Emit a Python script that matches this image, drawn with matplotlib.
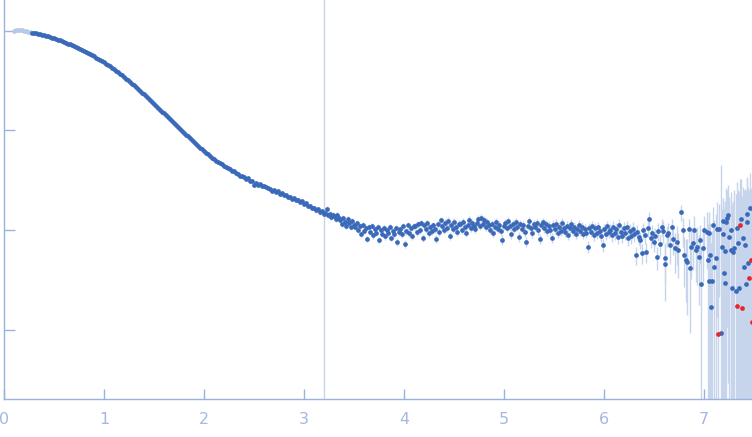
import numpy as np
import matplotlib
matplotlib.use("Agg")
import matplotlib.pyplot as plt
from matplotlib.ticker import NullLocator

# ---------------- data (q in nm^-1, intensity as log10 I) ----------------
q_excluded = [0.10, 0.12, 0.14, 0.16, 0.18, 0.20, 0.22, 0.24, 0.26]
logI_excluded = [0.000, 0.004, 0.006, 0.003, 0.001, -0.003, -0.006, -0.010, -0.014]

q_low = [
    0.28, 0.30, 0.32, 0.34, 0.36, 0.38, 0.40, 0.42, 0.44, 0.46,
    0.48, 0.50, 0.52, 0.54, 0.56, 0.58, 0.60, 0.62, 0.64, 0.66,
    0.68, 0.70, 0.72, 0.74, 0.76, 0.78, 0.80, 0.82, 0.84, 0.86,
    0.88, 0.90, 0.92, 0.94, 0.96, 0.98, 1.00, 1.02, 1.04, 1.06,
    1.08, 1.10, 1.12, 1.14, 1.16, 1.18, 1.20, 1.22, 1.24, 1.26,
    1.28, 1.30, 1.32, 1.34, 1.36, 1.38, 1.40, 1.42, 1.44, 1.46,
    1.48, 1.50, 1.52, 1.54, 1.56, 1.58, 1.60, 1.62, 1.64, 1.66,
    1.68, 1.70, 1.72, 1.74, 1.76, 1.78, 1.80, 1.82, 1.84, 1.86,
    1.88, 1.90, 1.92, 1.94, 1.96, 1.98, 2.00, 2.02, 2.04, 2.06,
    2.08, 2.10, 2.12, 2.14, 2.16, 2.18, 2.20, 2.22, 2.24, 2.26,
    2.28, 2.30, 2.32, 2.34, 2.36, 2.38, 2.40, 2.42, 2.44, 2.46,
    2.48, 2.50, 2.52, 2.54, 2.56, 2.58, 2.60, 2.62, 2.64, 2.66,
    2.68, 2.70, 2.72, 2.74, 2.76, 2.78, 2.80, 2.82, 2.84, 2.86,
    2.88, 2.90, 2.92, 2.94, 2.96, 2.98, 3.00, 3.02, 3.04, 3.06,
    3.08, 3.10, 3.12, 3.14, 3.16, 3.18, 3.20]
logI_low = [
    -0.020, -0.024, -0.028, -0.032, -0.037, -0.042, -0.047, -0.052, -0.058, -0.065,
    -0.071, -0.077, -0.084, -0.091, -0.099, -0.106, -0.114, -0.122, -0.131, -0.139,
    -0.147, -0.156, -0.165, -0.175, -0.185, -0.195, -0.205, -0.215, -0.226, -0.237,
    -0.248, -0.259, -0.271, -0.283, -0.295, -0.307, -0.320, -0.333, -0.347, -0.361,
    -0.376, -0.390, -0.405, -0.420, -0.435, -0.450, -0.466, -0.482, -0.499, -0.516,
    -0.533, -0.550, -0.568, -0.586, -0.604, -0.622, -0.640, -0.659, -0.678, -0.697,
    -0.716, -0.735, -0.755, -0.774, -0.793, -0.813, -0.832, -0.851, -0.871, -0.890,
    -0.909, -0.929, -0.948, -0.967, -0.987, -1.006, -1.025, -1.044, -1.063, -1.082,
    -1.101, -1.120, -1.138, -1.156, -1.174, -1.191, -1.209, -1.226, -1.243, -1.259,
    -1.274, -1.289, -1.306, -1.316, -1.333, -1.342, -1.359, -1.367, -1.384, -1.390,
    -1.408, -1.413, -1.432, -1.436, -1.455, -1.460, -1.466, -1.489, -1.480, -1.508,
    -1.510, -1.545, -1.528, -1.552, -1.538, -1.562, -1.555, -1.572, -1.580, -1.586,
    -1.605, -1.598, -1.622, -1.610, -1.640, -1.627, -1.652, -1.645, -1.670, -1.668,
    -1.690, -1.683, -1.705, -1.698, -1.725, -1.712, -1.744, -1.735, -1.762, -1.760,
    -1.782, -1.777, -1.805, -1.792, -1.825, -1.815, -1.845]
err_pct_low = [
    1, 1, 1, 1, 1, 1, 1, 1, 1, 1,
    1, 1, 1, 1, 1, 1, 1, 1, 1, 1,
    1, 1, 1, 1, 1, 1, 1, 1, 1, 1,
    1, 1, 1, 1, 1, 1, 1, 1, 1, 1,
    1, 1, 1, 1, 1, 1, 1, 1, 1, 1,
    1, 1, 1, 1, 1, 1, 1, 1, 1, 1,
    1, 1, 1, 1, 1, 1, 1, 1, 1, 1,
    1, 1, 1, 1, 1, 1, 1, 1, 1, 1,
    2, 2, 2, 2, 2, 2, 2, 2, 2, 2,
    2, 2, 2, 2, 2, 2, 2, 2, 2, 2,
    3, 3, 3, 3, 3, 3, 3, 3, 3, 3,
    3, 3, 3, 3, 3, 3, 3, 3, 3, 3,
    4, 4, 4, 4, 4, 4, 4, 4, 4, 4,
    4, 4, 4, 4, 4, 4, 4, 4, 4, 4,
    5, 5, 5, 5, 5, 5, 5]

q_mid = [
    3.21, 3.225, 3.24, 3.255, 3.27, 3.285, 3.30, 3.315, 3.33, 3.345,
    3.36, 3.375, 3.39, 3.405, 3.42, 3.435, 3.45, 3.465, 3.48, 3.495,
    3.51, 3.525, 3.54, 3.555, 3.57, 3.585, 3.60, 3.615, 3.63, 3.645,
    3.66, 3.675, 3.69, 3.705, 3.72, 3.735, 3.75, 3.765, 3.78, 3.795,
    3.81, 3.825, 3.84, 3.855, 3.87, 3.885, 3.90, 3.915, 3.93, 3.945,
    3.96, 3.975, 3.99, 4.005, 4.02, 4.035, 4.05, 4.065, 4.08, 4.095,
    4.11, 4.125, 4.14, 4.155, 4.17, 4.185, 4.20, 4.215, 4.23, 4.245,
    4.26, 4.275, 4.29, 4.305, 4.32, 4.335, 4.35, 4.365, 4.38, 4.395,
    4.41, 4.425, 4.44, 4.455, 4.47, 4.485, 4.50, 4.515, 4.53, 4.545,
    4.56, 4.575, 4.59, 4.605, 4.62, 4.635, 4.65, 4.665, 4.68, 4.695,
    4.71, 4.725, 4.74, 4.755, 4.77, 4.785, 4.80, 4.815, 4.83, 4.845,
    4.86, 4.875, 4.89, 4.905, 4.92, 4.935, 4.95, 4.965, 4.98, 4.995,
    5.01, 5.025, 5.04, 5.055, 5.07, 5.085, 5.10, 5.115, 5.13, 5.145,
    5.16, 5.175, 5.19, 5.205, 5.22, 5.235, 5.25, 5.265, 5.28, 5.295,
    5.31, 5.325, 5.34, 5.355, 5.37, 5.385, 5.40, 5.415, 5.43, 5.445,
    5.46, 5.475, 5.49, 5.505, 5.52, 5.535, 5.55, 5.565, 5.58, 5.595,
    5.61, 5.625, 5.64, 5.655, 5.67, 5.685, 5.70, 5.715, 5.73, 5.745,
    5.76, 5.775, 5.79, 5.805, 5.82, 5.835, 5.85, 5.865, 5.88, 5.895,
    5.91, 5.925, 5.94, 5.955, 5.97, 5.985, 6.00, 6.015, 6.03, 6.045,
    6.06, 6.075, 6.09, 6.105, 6.12, 6.135, 6.15, 6.165, 6.18, 6.195,
    6.21, 6.225, 6.24, 6.255, 6.27, 6.285, 6.30, 6.315, 6.33, 6.345,
    6.36, 6.375, 6.39, 6.405, 6.42, 6.435, 6.45, 6.465, 6.48, 6.495,
    6.51, 6.525, 6.54, 6.555]
logI_mid = [
    -1.83, -1.79, -1.85, -1.84, -1.87, -1.85, -1.86, -1.89, -1.85, -1.88,
    -1.90, -1.94, -1.88, -1.92, -1.96, -1.89, -1.93, -1.97, -1.91, -1.95,
    -1.97, -1.93, -2.00, -1.96, -2.04, -1.95, -2.01, -1.98, -2.09, -1.97,
    -2.02, -1.96, -2.05, -1.99, -2.03, -1.97, -2.10, -2.00, -2.04, -1.98,
    -2.06, -2.00, -2.03, -1.97, -2.08, -2.01, -2.04, -1.98, -2.12, -2.02,
    -1.99, -2.04, -1.96, -2.14, -2.01, -1.95, -2.03, -1.98, -2.06, -1.96,
    -1.96, -2.02, -1.94, -2.00, -1.93, -2.08, -1.95, -1.99, -1.93, -2.03,
    -1.97, -2.01, -1.95, -1.99, -2.09, -1.94, -2.02, -1.90, -1.96, -2.00,
    -1.93, -1.98, -1.91, -2.06, -1.95, -1.99, -1.92, -1.97, -2.02, -1.94,
    -1.94, -2.00, -1.92, -1.97, -2.03, -1.95, -1.90, -1.98, -1.93, -1.96,
    -1.99, -1.93, -1.89, -1.96, -1.88, -1.94, -1.90, -1.97, -1.92, -1.95,
    -2.00, -1.94, -2.03, -1.97, -1.92, -1.99, -1.95, -2.01, -2.10, -1.96,
    -1.93, -1.98, -1.91, -1.96, -2.04, -1.94, -1.99, -1.92, -1.97, -2.07,
    -1.94, -1.99, -1.95, -2.02, -2.12, -1.96, -1.91, -1.98, -2.03, -1.94,
    -1.97, -1.93, -2.00, -2.09, -1.95, -1.92, -1.98, -1.94, -2.01, -1.96,
    -2.00, -2.08, -1.95, -1.99, -1.94, -2.03, -1.97, -2.01, -1.93, -1.98,
    -2.02, -1.96, -2.05, -1.98, -1.94, -2.01, -1.97, -2.04, -1.99, -1.95,
    -2.01, -1.97, -2.04, -1.99, -2.03, -2.17, -1.98, -2.02, -1.96, -2.05,
    -1.98, -2.03, -1.97, -2.01, -2.06, -2.15, -1.99, -2.04, -1.96, -2.02,
    -2.00, -2.05, -1.97, -2.03, -1.99, -2.07, -1.95, -2.02, -2.06, -1.98,
    -2.03, -1.97, -2.08, -2.01, -2.06, -1.99, -2.04, -2.25, -2.02, -2.07,
    -2.10, -2.23, -2.00, -2.05, -2.22, -1.98, -1.89, -2.08, -2.03, -2.12,
    -2.06, -2.27, -2.01, -2.14]
err_pct_mid = [
    6, 6, 6, 6, 6, 6, 6, 6, 6, 6,
    6, 7, 6, 7, 6, 7, 6, 7, 6, 7,
    7, 7, 7, 7, 7, 7, 7, 7, 8, 7,
    7, 7, 8, 7, 7, 7, 8, 7, 7, 7,
    8, 7, 8, 7, 8, 7, 8, 7, 9, 8,
    8, 8, 8, 9, 8, 8, 8, 8, 8, 8,
    8, 8, 8, 8, 8, 9, 8, 8, 8, 8,
    8, 9, 8, 9, 9, 8, 9, 8, 9, 9,
    9, 9, 9, 10, 9, 9, 9, 9, 9, 9,
    9, 9, 9, 9, 10, 9, 9, 9, 9, 9,
    9, 9, 9, 9, 9, 9, 9, 9, 9, 9,
    10, 9, 10, 10, 9, 10, 10, 10, 11, 10,
    10, 10, 10, 10, 11, 10, 10, 10, 10, 11,
    10, 10, 10, 11, 12, 10, 10, 10, 11, 10,
    10, 10, 11, 12, 10, 10, 11, 10, 11, 11,
    11, 12, 11, 11, 11, 11, 11, 11, 11, 11,
    11, 11, 12, 11, 11, 12, 11, 12, 12, 11,
    12, 12, 12, 12, 12, 14, 12, 12, 12, 13,
    13, 13, 13, 13, 14, 15, 13, 14, 13, 14,
    14, 15, 14, 15, 14, 16, 14, 15, 16, 15,
    16, 15, 17, 16, 17, 16, 17, 21, 17, 18,
    19, 22, 18, 19, 22, 18, 17, 20, 19, 21,
    21, 26, 21, 24]

q_high = [
    6.574, 6.590, 6.607, 6.610, 6.624, 6.640, 6.657, 6.674, 6.690, 6.707,
    6.724, 6.740, 6.767, 6.784, 6.797, 6.814, 6.824, 6.844, 6.857, 6.867,
    6.884, 6.900, 6.917, 6.930, 6.944, 6.957, 6.970, 6.984, 6.997, 7.024,
    7.034, 7.044, 7.047, 7.057, 7.067, 7.074, 7.084, 7.100, 7.117, 7.124,
    7.150, 7.167, 7.174, 7.184, 7.190, 7.200, 7.203, 7.210, 7.217, 7.230,
    7.240, 7.250, 7.264, 7.266, 7.280, 7.290, 7.300, 7.317, 7.330, 7.340,
    7.347, 7.367, 7.390, 7.400, 7.410, 7.417, 7.424, 7.430, 7.440, 7.457]
logI_high = [
    -1.968, -2.011, -2.285, -2.342, -2.051, -2.028, -2.151, -1.968, -2.094, -2.185,
    -2.118, -2.202, -1.823, -2.001, -2.252, -2.302, -2.319, -1.994, -2.385, -2.168,
    -2.134, -2.001, -2.202, -2.168, -2.269, -2.101, -2.546, -2.185, -2.001, -2.018,
    -2.302, -2.034, -2.513, -2.252, -2.776, -2.513, -1.951, -2.375, -2.285, -1.994,
    -1.994, -3.037, -2.175, -1.911, -2.041, -2.429, -2.536, -2.209, -1.918, -1.884,
    -1.851, -2.068, -2.001, -2.202, -2.586, -2.219, -2.185, -2.613, -1.984, -2.134,
    -2.586, -1.894, -2.084, -2.375, -2.151, -2.543, -1.841, -1.918, -2.329, -1.783]
sigma_high_e4 = [
    20, 24, 22, 26, 21, 23, 25, 20, 24,
    28, 32, 30, 27, 33, 29, 31, 34, 28,
    32, 36, 34, 38, 33, 40, 36, 34, 39, 35, 37,
    55, 64, 58, 62, 60, 57, 66, 59,
    85, 92, 88, 80, 440, 95, 86, 98,
    125, 140, 132, 145, 120, 138, 130, 142, 128, 150, 135,
    185, 205, 200, 180, 215, 195, 190, 210, 185, 225, 195, 200, 220, 205]

q_flagged = [7.140, 7.330, 7.357, 7.380, 7.450, 7.464, 7.477]
logI_flagged = [-3.047, -2.763, -1.951, -2.786, -2.485, -2.302, -2.927]
sigma_flagged_e4 = [90, 200, 210, 200, 220, 215, 220]

# ---------------- figure ----------------
W, H = 752, 437
fig = plt.figure(figsize=(W / 100, H / 100), dpi=100)
ax = fig.add_axes([4.3 / W, 38 / H, 1 - 4.3 / W, 1 - 38 / H])
ax.set_yscale('log')
ax.set_xlim(0, 7.477)
ax.set_ylim(10 ** -3.696, 10 ** 0.306)

BLUE = '#3a69b9'
LIGHT = '#b7c9e8'
BAR = '#c6d4ec'
RED = '#e8262a'
AXC = '#9bb2df'
FLOOR = 1e-6


def to_arr(qv, lv):
    return np.asarray(qv, float), 10.0 ** np.asarray(lv, float)


ax.axvline(3.2, color='#c9d5ea', lw=1.0, zorder=0.5)

qe, Ie = to_arr(q_excluded, logI_excluded)
ql, Il = to_arr(q_low, logI_low)
qm, Im = to_arr(q_mid, logI_mid)
qh, Ih = to_arr(q_high, logI_high)
qf, If = to_arr(q_flagged, logI_flagged)

sl = Il * np.asarray(err_pct_low) / 100.0
sm = Im * np.asarray(err_pct_mid) / 100.0
sh = np.asarray(sigma_high_e4) * 1e-4
sf = np.asarray(sigma_flagged_e4) * 1e-4

for qq, ii, ss in [(ql, Il, sl), (qm, Im, sm), (qh, Ih, sh), (qf, If, sf)]:
    lo = np.maximum(ii - ss, FLOOR)
    hi = ii + ss
    ax.vlines(qq, lo, hi, color=BAR, lw=1.0, zorder=1)

ms = 3.4
ax.plot(qe, Ie, 'o', ms=ms, color=LIGHT, mew=0, zorder=2)
ax.plot(ql, Il, 'o', ms=ms, color=BLUE, mew=0, zorder=3)
ax.plot(qm, Im, 'o', ms=ms, color=BLUE, mew=0, zorder=3)
ax.plot(qh, Ih, 'o', ms=ms, color=BLUE, mew=0, zorder=3)
ax.plot(qf, If, 'o', ms=ms, color=RED, mew=0, zorder=4)

# axes styling
for s in ['top', 'right']:
    ax.spines[s].set_visible(False)
for s in ['left', 'bottom']:
    ax.spines[s].set_color(AXC)
    ax.spines[s].set_linewidth(1.0)

ax.set_xticks([0, 1, 2, 3, 4, 5, 6, 7])
ax.set_xticklabels(['0', '1', '2', '3', '4', '5', '6', '7'])
ax.set_yticks([1e-3, 1e-2, 1e-1, 1.0])
ax.yaxis.set_minor_locator(NullLocator())
ax.set_yticklabels([])
ax.tick_params(axis='x', direction='in', length=7, width=1, color=AXC,
               labelcolor='#a5b8e1', labelsize=11.5, pad=9.5)
ax.tick_params(axis='y', direction='in', length=8, width=1, color=AXC,
               labelleft=False)
ax.patch.set_alpha(0)

fig.savefig('out.png', dpi=100)
